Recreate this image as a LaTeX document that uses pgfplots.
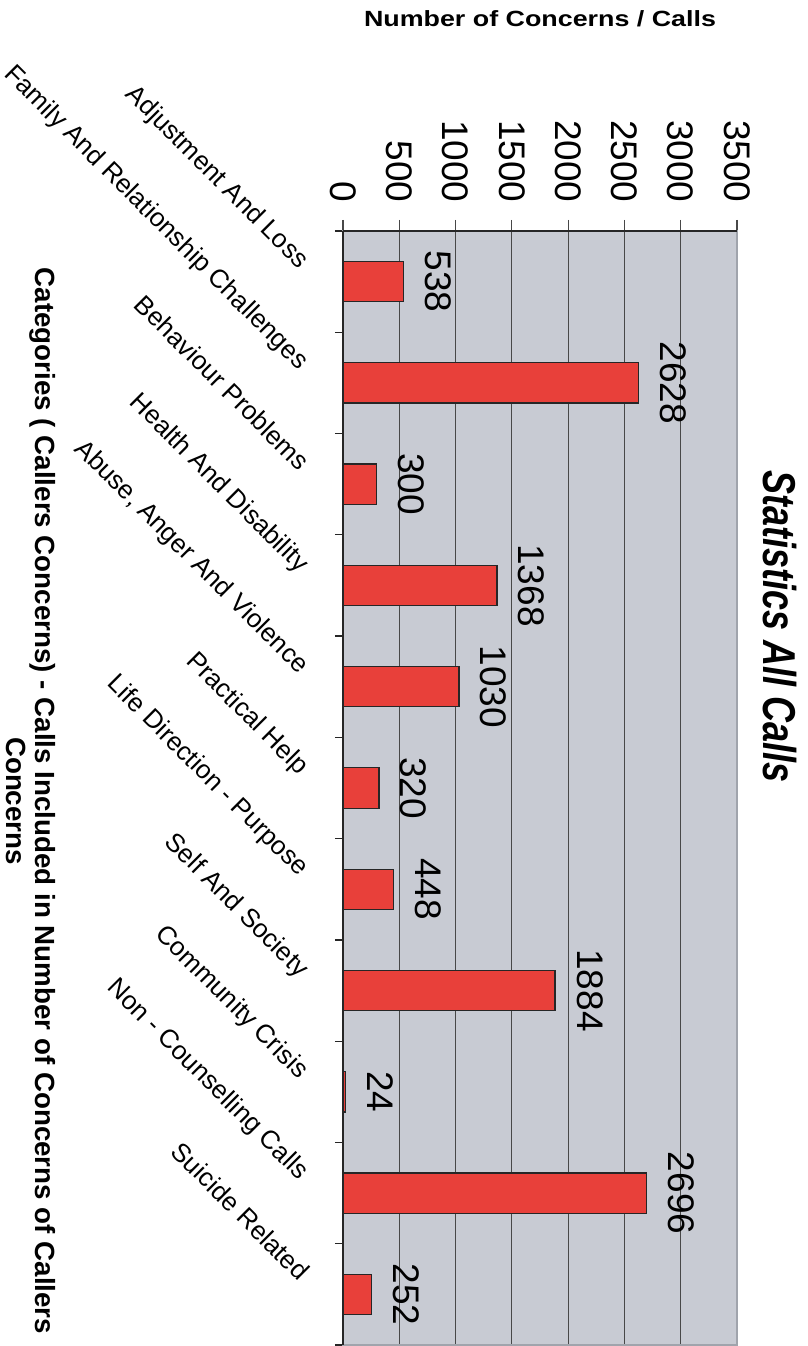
\documentclass[border=0pt]{standalone}
\usepackage{fontspec}
\setmainfont{Liberation Sans}
\usepackage{graphicx}
\usepackage{pgfplots}
\pgfplotsset{compat=1.18}

\definecolor{barred}{RGB}{232,64,58}
\definecolor{plotgray}{RGB}{200,203,211}
\definecolor{edgegray}{RGB}{160,164,172}
\definecolor{griddark}{RGB}{72,72,72}

\begin{document}
\begin{tikzpicture}
\useasboundingbox (0,0) rectangle (605.25pt,1009.5pt);
\begin{axis}[
  at={(257.25pt,0.75pt)}, anchor=south west,
  scale only axis, width=295.5pt, height=835.5pt,
  xbar, bar width=30.2pt,
  xmin=0, xmax=3500, ymin=-0.5, ymax=10.5,
  clip=false,
  axis background/.style={fill=plotgray},
  axis line style={draw=edgegray, line width=1pt},
  xtick={0,500,...,3500},
  ytick={0,...,10},
  yticklabels={{Suicide Related},{Non - Counselling Calls},{Community Crisis},{Self And Society},{Life Direction - Purpose},{Practical Help},{Abuse, Anger And Violence},{Health And Disability},{Behaviour Problems},{Family And Relationship Challenges},{Adjustment And Loss}},
  minor ytick={-0.5,0.5,...,10.5},
  tick align=outside,
  major tick length=8.25pt,
  minor tick length=6pt,
  xtick pos=right, xticklabel pos=right,
  ytick pos=left,
  major y tick style={draw=none},
  minor tick style={black!85, line width=0.9pt},
  xtick style={griddark, line width=0.9pt},
  xmajorgrids, grid style={griddark, line width=0.9pt},
  /pgf/number format/1000 sep={},
  /pgf/number format/assume math mode=true,
  xticklabel style={font=\fontsize{27.75}{30}\selectfont, yshift=13pt, rotate=-90, anchor=east, inner sep=0pt},
  yticklabel style={font=\fontsize{19.5}{23}\selectfont, xshift=-25pt, yshift=9pt, rotate=-45, anchor=base east, inner sep=0pt},
  nodes near coords,
  nodes near coords style={font=\fontsize{27.75}{30}\selectfont, xshift=15.75pt, rotate=-90, anchor=south, inner sep=0pt, text=black},
]
\addplot[fill=barred, draw=black!85, line width=0.9pt] coordinates {
  (538,10) (2628,9) (300,8) (1368,7) (1030,6) (320,5)
  (448,4) (1884,3) (24,2) (2696,1) (252,0)
};
\draw[black!85, line width=1.1pt] (axis cs:0,10.5) -- (axis cs:3500,10.5);
\draw[black!85, line width=1.1pt] (axis cs:0,-0.5) -- (axis cs:0,10.5);
\end{axis}
% chart title
\node[rotate=-90, anchor=base, font=\bfseries\itshape\fontsize{27}{30}\selectfont]
  at (572.25pt,539.25pt) {\scalebox{1}[1.28]{Statistics All Calls}};
% value axis title
\node[anchor=base, font=\bfseries\fontsize{16.5}{19}\selectfont]
  at (405pt,989.25pt) {\scalebox{1.22}[1]{Number of Concerns / Calls}};
% category axis title
\node[rotate=-90, anchor=base, font=\bfseries\fontsize{20.8}{24}\selectfont]
  at (26.25pt,408.75pt) {Categories ( Callers Concerns) - Calls Included in Number of Concerns of Callers};
\node[rotate=-90, anchor=base, font=\bfseries\fontsize{20.8}{24}\selectfont]
  at (5.25pt,408.75pt) {Concerns};
\end{tikzpicture}
\end{document}
